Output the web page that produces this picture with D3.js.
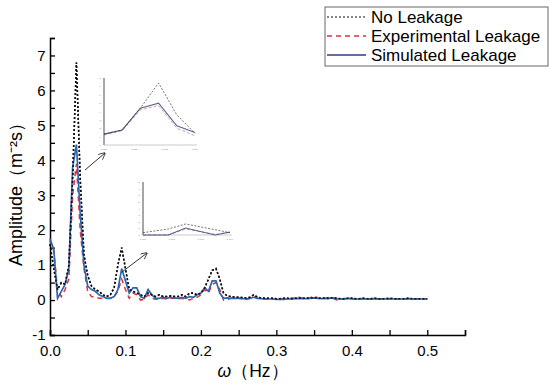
<!DOCTYPE html>
<html lang="en">
<head>
  <meta charset="UTF-8">
  <title>Amplitude spectrum</title>
  <script src="https://d3js.org/d3.v7.min.js"></script>
  <style>
    body { margin: 0; background: #fff; }
    text { font-family: "Liberation Sans", Arial, sans-serif; }
  </style>
</head>
<body>
<div id="chart"></div>
<script>
  // frequency grid, 0.005 Hz steps
  const freq = d3.range(0, 101).map(i => +(i * 0.005).toFixed(3));

  const noLeak = [
    1.6, 0.9, 0.3, 0.5, 0.45, 1.0, 3.5, 6.8, 3.5, 1.3,
    0.7, 0.4, 0.3, 0.25, 0.15, 0.1, 0.15, 0.35, 1.0, 1.5,
    0.9, 0.3, 0.25, 0.2, 0.15, 0.1, 0.2, 0.15, 0.1, 0.15,
    0.1, 0.1, 0.12, 0.1, 0.1, 0.15, 0.1, 0.2, 0.2, 0.15,
    0.2, 0.35, 0.6, 0.85, 0.9, 0.6, 0.2, 0.12, 0.1, 0.08,
    0.08, 0.07, 0.06, 0.08, 0.15, 0.08, 0.06, 0.05, 0.05, 0.05,
    0.04, 0.04, 0.05, 0.05, 0.04, 0.05, 0.06, 0.05, 0.05, 0.06,
    0.07, 0.05, 0.05, 0.06, 0.05, 0.07, 0.05, 0.04, 0.04, 0.05,
    0.05, 0.04, 0.04, 0.05, 0.04, 0.04, 0.05, 0.04, 0.04, 0.04,
    0.05, 0.04, 0.04, 0.04, 0.04, 0.05, 0.04, 0.04, 0.04, 0.04, 0.04
  ];

  const expLeak = [
    1.7, 1.4, 0.3, 0.1, 0.3, 0.6, 3.0, 3.9, 2.0, 0.9,
    0.25, 0.1, 0.08, 0.05, 0.05, 0.05, 0.05, 0.1, 0.25, 0.6,
    0.3, 0.05, 0.2, 0.15, 0.0, 0.02, 0.15, 0.05, 0.02, 0.02,
    0.05, 0.03, 0.05, 0.05, 0.03, 0.05, 0.03, 0.0, 0.05, 0.08,
    0.15, 0.3, 0.2, 0.45, 0.5, 0.3, 0.0, 0.02, 0.05, 0.05,
    0.05, 0.04, 0.02, 0.05, 0.1, 0.05, 0.04, 0.03, 0.03, 0.02,
    0.02, 0.03, 0.03, 0.04, 0.05, 0.06, 0.08, 0.05, 0.04, 0.06,
    0.13, 0.05, 0.04, 0.05, 0.03, 0.05, 0.0, 0.02, 0.03, 0.04,
    0.04, 0.03, 0.03, 0.04, 0.03, 0.03, 0.04, 0.03, 0.03, 0.03,
    0.04, 0.03, 0.03, 0.03, 0.03, 0.04, 0.03, 0.03, 0.03, 0.03, 0.03
  ];

  const simLeak = [
    1.75, 1.45, 0.05, 0.25, 0.45, 0.9, 3.8, 4.45, 2.5, 1.0,
    0.4, 0.3, 0.25, 0.15, 0.1, 0.05, 0.05, 0.1, 0.3, 0.9,
    0.55, 0.2, 0.35, 0.35, 0.1, 0.05, 0.3, 0.15, 0.05, 0.05,
    0.08, 0.05, 0.08, 0.06, 0.05, 0.08, 0.05, 0.1, 0.08, 0.15,
    0.2, 0.35, 0.25, 0.55, 0.55, 0.2, 0.05, 0.06, 0.05, 0.05,
    0.05, 0.04, 0.03, 0.05, 0.08, 0.05, 0.04, 0.03, 0.03, 0.03,
    0.02, 0.02, 0.02, 0.03, 0.03, 0.04, 0.05, 0.04, 0.04, 0.05,
    0.06, 0.05, 0.04, 0.05, 0.05, 0.06, 0.03, 0.03, 0.04, 0.04,
    0.04, 0.03, 0.03, 0.04, 0.03, 0.03, 0.04, 0.03, 0.03, 0.03,
    0.04, 0.03, 0.03, 0.03, 0.03, 0.04, 0.03, 0.03, 0.03, 0.03, 0.03
  ];

  const xTicks = [0.0, 0.1, 0.2, 0.3, 0.4, 0.5];
  const yTicks = [-1, 0, 1, 2, 3, 4, 5, 6, 7];

  // zoomed insets
  const inset1X = [0, 1, 2, 3, 4, 5];
  const inset1No = [1.3, 1.8, 4.4, 7.4, 3.6, 1.4];
  const inset1Exp = [1.2, 1.7, 4.2, 4.7, 2.0, 1.1];
  const inset1Sim = [1.3, 1.8, 4.4, 5.0, 2.3, 1.5];
  const inset1Ticks = ["0.030", "0.033", "0.036", "0.039"];

  const inset2X = [0, 0.29, 0.49, 0.83, 1];
  const inset2No = [0.35, 0.9, 1.66, 0.8, 0.35];
  const inset2Exp = [0.0, 0.0, 0.9, 0.1, 0.4];
  const inset2Sim = [0.0, 0.0, 1.06, 0.0, 0.45];
  const inset2Ticks = ["0.090", "0.093", "0.096", "0.099"];

  const seriesNames = ["No Leakage", "Experimental Leakage", "Simulated Leakage"];
  const colors = ["#111111", "#e0303a", "#2f66b0"];
  const dashes = ["2,2", "5,4", null];

  const width = 550, height = 384;
  const svg = d3.select("#chart").append("svg")
    .attr("width", width).attr("height", height);

  const x = d3.scaleLinear().domain([0, 0.55]).range([50, 465]);
  const y = d3.scaleLinear().domain([-1, 7.5]).range([335, 38]);

  // axes: ticks point inward
  const xAxis = svg.append("g").attr("transform", "translate(0,335)")
    .call(d3.axisBottom(x).tickValues(d3.range(0, 0.551, 0.05)).tickSize(-5)
      .tickFormat(d => xTicks.some(t => Math.abs(t - d) < 1e-6) ? d3.format(".1f")(d) : ""));
  const yAxis = svg.append("g").attr("transform", "translate(50,0)")
    .call(d3.axisLeft(y).tickValues(d3.range(-1, 7.51, 0.5)).tickSize(-5)
      .tickFormat(d => yTicks.includes(d) ? d : ""));

  [xAxis, yAxis].forEach(g => {
    g.select(".domain").attr("stroke", "#000").attr("stroke-width", 1.5);
    g.selectAll(".tick line").attr("stroke", "#000").attr("stroke-width", 1.3);
    g.selectAll(".tick text").attr("font-size", 15).attr("fill", "#000");
  });
  xAxis.selectAll(".tick text").attr("dy", "1.2em");
  yAxis.selectAll(".tick text").attr("dx", "-0.1em");

  // axis titles
  svg.append("text")
    .attr("transform", "translate(22,190) rotate(-90)")
    .attr("text-anchor", "middle").attr("font-size", 18)
    .text("Amplitude（m⁻²s）");
  const xt = svg.append("text")
    .attr("x", 253).attr("y", 377).attr("text-anchor", "middle").attr("font-size", 17.5);
  xt.append("tspan").attr("font-style", "italic").text("ω");
  xt.append("tspan").text("（Hz）");

  // main curves
  const line = d3.line().x(d => x(d[0])).y(d => y(d[1]));
  [noLeak, expLeak, simLeak].forEach((vals, i) => {
    svg.append("path")
      .datum(freq.map((f, j) => [f, vals[j]]))
      .attr("fill", "none")
      .attr("stroke", colors[i])
      .attr("stroke-width", i === 2 ? 1.7 : 1.5)
      .attr("stroke-dasharray", dashes[i])
      .attr("d", line);
  });
  // keep the no-leakage dots visible on top of the solid line
  svg.append("path")
    .datum(freq.map((f, j) => [f, noLeak[j]]))
    .attr("fill", "none").attr("stroke", colors[0]).attr("stroke-width", 1.5)
    .attr("stroke-dasharray", dashes[0]).attr("d", line);

  // insets
  function inset(box, xs, sets, ticks) {
    const ix = d3.scaleLinear().domain(d3.extent(xs)).range([box.x0, box.x1]);
    const iy = d3.scaleLinear().domain([0, 8]).range([box.y1, box.y0]);
    const g = svg.append("g");
    g.append("line").attr("x1", box.x0).attr("x2", box.x0).attr("y1", box.y0).attr("y2", box.y1)
      .attr("stroke", "#888").attr("stroke-width", 1.5);
    g.append("line").attr("x1", box.x0).attr("x2", box.x1 + 2).attr("y1", box.y1).attr("y2", box.y1)
      .attr("stroke", "#aaa").attr("stroke-width", 0.6);
    d3.range(0, 9).forEach(v => {
      g.append("text").attr("x", box.x0 - 3).attr("y", iy(v) + 1)
        .attr("text-anchor", "end").attr("font-size", 2.5).attr("fill", "#777").text(v);
    });
    ticks.forEach((t, k) => {
      g.append("text").attr("x", box.x0 + k * (box.x1 - box.x0) / (ticks.length - 1)).attr("y", box.y1 + 5)
        .attr("text-anchor", "middle").attr("font-size", 2.5).attr("fill", "#777").text(t);
    });
    const il = d3.line().x(d => ix(d[0])).y(d => iy(d[1]));
    const order = [1, 2, 0];
    order.forEach(i => {
      g.append("path")
        .datum(xs.map((v, j) => [v, sets[i][j]]))
        .attr("fill", "none")
        .attr("stroke", i === 0 ? "#333" : (i === 1 ? "#d06a8a" : "#3c4a78"))
        .attr("stroke-width", i === 2 ? 1.1 : 0.8)
        .attr("stroke-dasharray", i === 0 ? "2,1.5" : (i === 1 ? "3,2" : null))
        .attr("opacity", 0.85)
        .attr("d", il);
    });
  }
  inset({x0: 104, x1: 195, y0: 78, y1: 145}, inset1X, [inset1No, inset1Exp, inset1Sim], inset1Ticks);
  inset({x0: 143, x1: 230, y0: 182, y1: 235}, inset2X, [inset2No, inset2Exp, inset2Sim], inset2Ticks);

  // arrows
  const defs = svg.append("defs");
  defs.append("marker").attr("id", "arr").attr("viewBox", "0 0 10 10")
    .attr("refX", 9).attr("refY", 5).attr("markerWidth", 7).attr("markerHeight", 7)
    .attr("orient", "auto")
    .append("path").attr("d", "M0,0 L10,5 L0,10").attr("fill", "none").attr("stroke", "#333").attr("stroke-width", 1.2);
  [[85, 170, 105, 153], [122, 272, 147, 253]].forEach(a => {
    svg.append("line").attr("x1", a[0]).attr("y1", a[1]).attr("x2", a[2]).attr("y2", a[3])
      .attr("stroke", "#333").attr("stroke-width", 1).attr("marker-end", "url(#arr)");
  });

  // legend
  const lg = svg.append("g");
  lg.append("rect").attr("x", 325).attr("y", 7).attr("width", 223).attr("height", 59)
    .attr("fill", "#fff").attr("stroke", "#666").attr("stroke-width", 1);
  seriesNames.forEach((name, i) => {
    const ly = 17 + i * 19;
    lg.append("line").attr("x1", 327).attr("x2", 366).attr("y1", ly).attr("y2", ly)
      .attr("stroke", i === 2 ? "#2b3f7e" : colors[i]).attr("stroke-width", i === 0 ? 1 : 1.3)
      .attr("stroke-dasharray", dashes[i]);
    lg.append("text").attr("x", 371).attr("y", ly + 6).attr("font-size", 17).attr("fill", "#000").text(name);
  });
</script>
</body>
</html>
